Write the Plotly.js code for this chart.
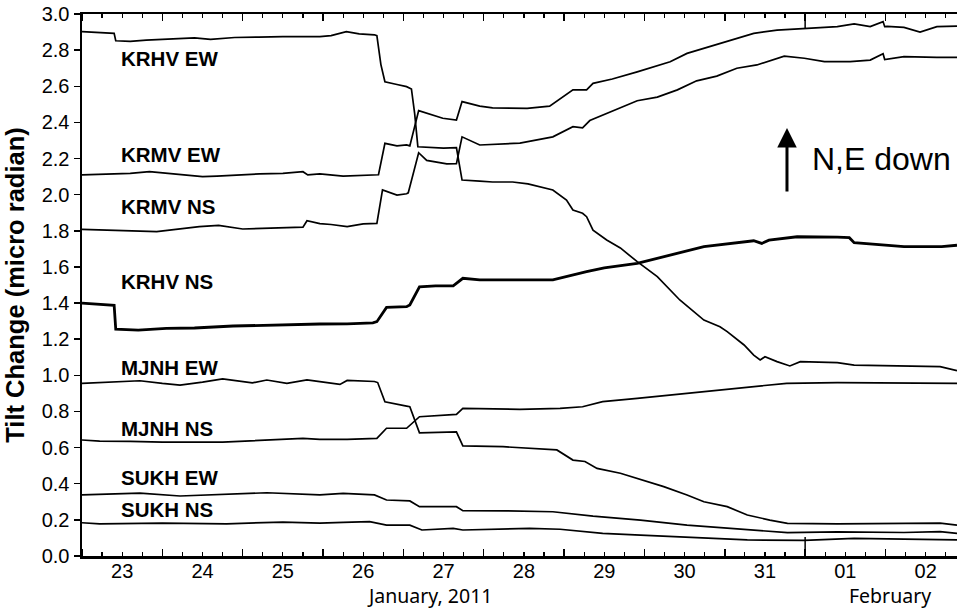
<!DOCTYPE html>
<html>
<head>
<meta charset="utf-8">
<script src="https://cdn.plot.ly/plotly-3.0.1.min.js"></script>
<style>html,body{margin:0;padding:0;background:#fff;}#chart{width:957px;height:608px;}</style>
</head>
<body>
<div id="chart"></div>
<script>
// time axis: fractional day of January 2011 (23.0 = Jan 23 00:00, 32.0 = Feb 1 00:00)
const seriesNames = ['KRHV EW','KRMV EW','KRMV NS','KRHV NS','MJNH EW','MJNH NS','SUKH EW','SUKH NS'];

const krhvEW_t = [23.00,23.20,23.40,23.42,23.60,23.80,24.10,24.40,24.60,24.90,25.20,25.50,25.96,26.10,26.29,26.45,26.64,26.67,26.72,26.77,26.92,27.04,27.10,27.14,27.18,27.35,27.50,27.66,27.70,27.73,27.95,28.11,28.36,28.55,28.86,29.03,29.11,29.23,29.28,29.36,29.53,29.70,29.91,30.16,30.44,30.74,30.94,31.03,31.24,31.36,31.44,31.50,31.65,31.81,31.94,32.40,32.61,33.23,33.68,33.89];
const krhvEW_v = [2.902,2.898,2.893,2.852,2.848,2.855,2.862,2.868,2.860,2.870,2.872,2.875,2.875,2.880,2.902,2.890,2.885,2.880,2.720,2.625,2.610,2.598,2.585,2.450,2.265,2.262,2.258,2.260,2.170,2.081,2.075,2.070,2.070,2.060,2.026,1.970,1.915,1.897,1.878,1.804,1.749,1.705,1.629,1.546,1.417,1.306,1.269,1.242,1.168,1.112,1.085,1.103,1.076,1.052,1.076,1.070,1.057,1.052,1.048,1.026];

const krmvEW_t = [23.00,23.30,23.60,23.84,24.20,24.50,24.68,25.00,25.21,25.50,25.75,25.81,25.96,26.25,26.45,26.64,26.69,26.77,26.92,27.04,27.08,27.19,27.37,27.49,27.66,27.73,27.95,28.11,28.54,28.82,29.11,29.28,29.36,29.60,29.91,30.32,30.53,30.74,30.94,31.15,31.36,31.65,31.99,32.40,32.61,32.81,32.97,32.99,33.02,33.23,33.43,33.64,33.89];
const krmvEW_v = [2.110,2.115,2.118,2.127,2.110,2.100,2.103,2.112,2.115,2.118,2.127,2.109,2.115,2.103,2.105,2.110,2.110,2.284,2.270,2.275,2.270,2.465,2.440,2.423,2.413,2.515,2.490,2.480,2.478,2.490,2.580,2.580,2.616,2.640,2.680,2.736,2.782,2.810,2.840,2.866,2.893,2.911,2.920,2.930,2.945,2.930,2.958,2.930,2.932,2.926,2.900,2.930,2.933];

const krmvNS_t = [23.00,23.22,23.60,23.93,24.46,24.70,25.00,25.37,25.60,25.75,25.80,25.96,26.10,26.30,26.50,26.67,26.74,26.92,27.04,27.06,27.19,27.29,27.54,27.66,27.73,27.95,28.45,28.86,29.11,29.23,29.32,29.91,30.16,30.41,30.65,30.90,31.15,31.40,31.74,31.99,32.24,32.56,32.81,32.97,32.99,33.02,33.23,33.64,33.89];
const krmvNS_v = [1.808,1.805,1.800,1.795,1.823,1.830,1.810,1.813,1.815,1.820,1.856,1.840,1.835,1.823,1.838,1.841,2.026,1.998,2.005,2.010,2.232,2.190,2.170,2.172,2.320,2.275,2.285,2.320,2.376,2.370,2.410,2.520,2.540,2.580,2.630,2.656,2.700,2.718,2.767,2.755,2.736,2.736,2.745,2.780,2.748,2.750,2.764,2.760,2.760];

const krhvNS_t = [23.00,23.20,23.40,23.42,23.70,24.05,24.40,24.88,25.30,25.60,25.96,26.30,26.62,26.67,26.79,27.04,27.08,27.20,27.40,27.62,27.74,27.95,28.24,28.86,29.28,29.50,29.91,30.32,30.74,31.36,31.46,31.55,31.90,32.40,32.55,32.61,33.23,33.70,33.89];
const krhvNS_v = [1.400,1.395,1.388,1.255,1.250,1.260,1.262,1.273,1.278,1.282,1.284,1.285,1.290,1.297,1.376,1.380,1.390,1.490,1.495,1.495,1.537,1.528,1.528,1.528,1.574,1.595,1.620,1.666,1.712,1.745,1.730,1.748,1.767,1.765,1.762,1.734,1.712,1.712,1.720];

const mjnhEW_t = [23.00,23.35,23.72,24.00,24.22,24.50,24.75,25.12,25.30,25.55,25.80,25.96,26.21,26.30,26.64,26.68,26.77,27.04,27.08,27.20,27.66,27.74,28.24,28.91,29.11,29.26,29.41,29.70,29.91,30.24,30.53,30.74,31.03,31.28,31.56,31.78,32.40,33.23,33.68,33.89];
const mjnhEW_v = [0.955,0.962,0.970,0.955,0.946,0.962,0.980,0.958,0.974,0.956,0.975,0.965,0.950,0.972,0.966,0.960,0.854,0.830,0.826,0.682,0.687,0.609,0.605,0.587,0.531,0.523,0.485,0.458,0.430,0.384,0.338,0.300,0.273,0.227,0.199,0.181,0.178,0.180,0.182,0.171];

const mjnhNS_t = [23.00,23.22,23.60,24.00,24.75,25.30,25.75,25.96,26.30,26.67,26.79,27.04,27.20,27.66,27.74,28.45,28.95,29.23,29.48,29.91,30.53,31.15,31.77,32.40,33.89];
const mjnhNS_v = [0.642,0.636,0.635,0.630,0.630,0.640,0.651,0.646,0.645,0.651,0.707,0.707,0.771,0.784,0.817,0.812,0.817,0.826,0.854,0.873,0.900,0.928,0.956,0.960,0.956];

const sukhEW_t = [23.00,23.72,24.22,24.80,25.30,25.96,26.25,26.64,26.79,27.08,27.20,27.66,27.74,28.29,28.86,29.36,29.95,30.53,31.28,31.78,32.40,33.23,33.68,33.89];
const sukhEW_v = [0.338,0.348,0.332,0.342,0.350,0.338,0.347,0.338,0.310,0.305,0.273,0.273,0.251,0.250,0.245,0.221,0.199,0.171,0.144,0.129,0.134,0.130,0.135,0.125];

const sukhNS_t = [23.00,23.22,24.00,24.80,25.50,25.96,26.25,26.58,26.79,27.08,27.23,27.62,27.74,28.57,28.95,29.48,29.95,30.53,31.28,31.99,32.61,33.23,33.89];
const sukhNS_v = [0.184,0.178,0.182,0.178,0.188,0.182,0.186,0.190,0.171,0.171,0.144,0.153,0.144,0.153,0.148,0.125,0.116,0.103,0.089,0.086,0.098,0.093,0.089];

const yTickStep = 0.2;
const monthLabels = ['January, 2011', 'February'];
const monthBoundaryDay = 32.0;
const xStartDay = 23.0, xEndDay = 33.89;

const T0 = Date.UTC(2011, 0, 1);
function tToDate(t) {
  const d = new Date(T0 + (t - 1) * 86400000);
  return d.toISOString().slice(0, 19).replace('T', ' ');
}

const series = [
  [krhvEW_t, krhvEW_v], [krmvEW_t, krmvEW_v], [krmvNS_t, krmvNS_v], [krhvNS_t, krhvNS_v],
  [mjnhEW_t, mjnhEW_v], [mjnhNS_t, mjnhNS_v], [sukhEW_t, sukhEW_v], [sukhNS_t, sukhNS_v]
];

const traces = series.map((s, i) => ({
  x: s[0].map(tToDate), y: s[1], name: seriesNames[i],
  type: 'scatter', mode: 'lines',
  line: { color: '#000', width: seriesNames[i] === 'KRHV NS' ? 2.8 : 1.7 },
  hoverinfo: 'skip', showlegend: false
}));

const labelY = [2.754, 2.225, 1.937, 1.522, 1.046, 0.703, 0.434, 0.260];
const annotations = seriesNames.map((n, i) => ({
  text: '<b>' + n + '</b>', xref: 'paper', yref: 'y', x: 0.0425, y: labelY[i],
  xanchor: 'left', yanchor: 'middle', showarrow: false,
  font: { family: 'Liberation Sans, Arial, sans-serif', size: 20.5, color: '#000' }
}));
annotations.push({
  text: '', xref: 'paper', yref: 'paper', x: 0.8057, y: 0.7897, ax: 0, ay: 65,
  showarrow: true, arrowhead: 2, arrowsize: 1.3, arrowwidth: 3, arrowcolor: '#000'
});
annotations.push({
  text: 'N,E down', xref: 'paper', yref: 'paper', x: 0.8317, y: 0.7325,
  xanchor: 'left', yanchor: 'middle', showarrow: false,
  font: { family: 'Liberation Sans, Arial, sans-serif', size: 32, color: '#000' }
});
annotations.push({
  text: monthLabels[0], xref: 'paper', yref: 'paper', x: (429 - 82) / 875, y: 0, yshift: -39,
  xanchor: 'center', yanchor: 'middle', showarrow: false,
  font: { family: 'Noto Sans, sans-serif', size: 19.5, color: '#000' }
});
annotations.push({
  text: monthLabels[1], xref: 'paper', yref: 'paper', x: (890 - 82) / 875, y: 0, yshift: -39,
  xanchor: 'center', yanchor: 'middle', showarrow: false,
  font: { family: 'Noto Sans, sans-serif', size: 19.5, color: '#000' }
});

const shapes = [
  { type: 'line', xref: 'x', yref: 'paper', x0: tToDate(monthBoundaryDay), x1: tToDate(monthBoundaryDay), y0: 0, y1: 0.035, line: { color: '#000', width: 1.5 } },
  { type: 'line', xref: 'x', yref: 'paper', x0: tToDate(monthBoundaryDay), x1: tToDate(monthBoundaryDay), y0: 0.974, y1: 1, line: { color: '#000', width: 1.5 } }
];

const tickFont = { family: 'Liberation Sans, Arial, sans-serif', size: 20, color: '#000' };

const layout = {
  width: 957, height: 608,
  margin: { l: 82, r: 0, t: 14, b: 52 },
  paper_bgcolor: '#fff', plot_bgcolor: '#fff',
  showlegend: false,
  xaxis: {
    type: 'date', range: [tToDate(xStartDay), tToDate(xEndDay)],
    showline: true, linewidth: 2.5, linecolor: '#000', mirror: 'ticks',
    ticks: 'inside', ticklen: 7, tickwidth: 1.5, tickcolor: '#000',
    tick0: '2011-01-23', dtick: 86400000, tickformat: '%d', ticklabelmode: 'period',
    ticklabelstandoff: -5,
    tickfont: tickFont, showgrid: false, zeroline: false,
    minor: { dtick: 21600000, ticks: 'inside', ticklen: 4, tickwidth: 1.2, tickcolor: '#000', showgrid: false }
  },
  yaxis: {
    range: [0, 3], tick0: 0, dtick: yTickStep, tickformat: '.1f',
    ticks: 'outside', ticklen: 6, tickwidth: 1.5, tickcolor: '#000',
    showline: true, linewidth: 2.5, linecolor: '#000', mirror: false,
    showgrid: false, zeroline: false, tickfont: tickFont,
    title: { text: '<b>Tilt Change (micro radian)</b>', standoff: 10,
             font: { family: 'Liberation Sans, Arial, sans-serif', size: 25.5, color: '#000' } }
  },
  annotations: annotations,
  shapes: shapes
};

Plotly.newPlot('chart', traces, layout, { staticPlot: true, displayModeBar: false });
</script>
</body>
</html>
